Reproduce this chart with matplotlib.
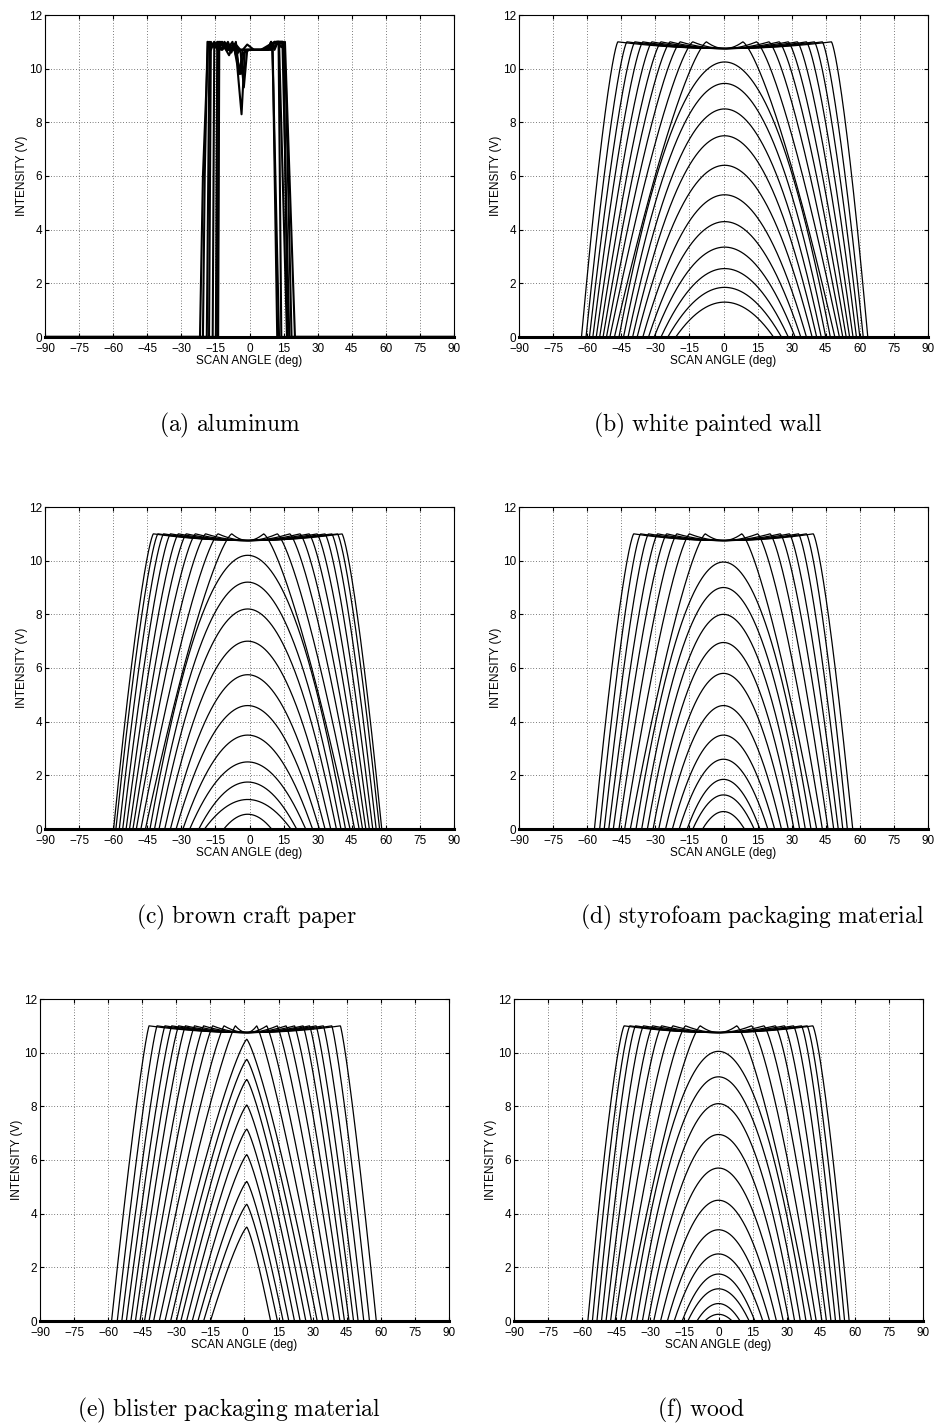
import numpy as np
import matplotlib.pyplot as plt

plt.rcParams['font.family'] = ['Liberation Sans', 'DejaVu Sans']
plt.rcParams['mathtext.fontset'] = 'cm'

angle = np.linspace(-90, 90, 1441)

# (a) aluminum - traces read point by point
al_x = [
    [-90, -21.8, -20.5, -18.2, -17, -15.5, -14, -12.5, -11, -9.5, -8, -6.5, -5, -3, 0, 4, 8, 9.5, 11, 12.5, 14, 15.6, 20, 90],
    [-90, -17.8, -17.0, -15.5, -14, -12.5, -11, -9.5, -7, -5.5, -3.5, -2, 0, 4, 8, 9.5, 11, 12.5, 14.5, 17.5, 90],
    [-90, -16.2, -15.5, -14, -12, -10, -8, -6, -4.5, -3, -1, 2, 6, 9, 11, 13, 16.5, 90],
    [-90, -14.8, -14.2, -12, -10, -8, -6, -4, -2.5, -1, 1, 4, 8, 10, 10.5, 13, 90],
    [-90, -13.8, -13.3, -11, -9, -7, -5, -2, 2, 6, 9, 11, 12.8, 14, 90],
    [-90, -20.5, -19.7, -18.5, -16, -13, -10, -7.5, -6, -4, 0, 5, 9, 12, 14.8, 16, 18.5, 90],
    [-90, -18.8, -17.6, -15, -12, -9, -6.5, -5, -3.8, -2.5, 0, 5, 9, 12, 15, 16.8, 90],
    [-90, -14, -13.6, -10, -6, -3, 0, 4, 8, 10.2, 12.2, 90],
]
al_y = [
    [0, 0, 6.0, 11.0, 10.7, 11.0, 10.7, 11.0, 10.8, 11.0, 10.7, 10.9, 10.7, 10.7, 10.7, 10.7, 10.7, 11.0, 10.8, 11.0, 10.8, 11.0, 0, 0],
    [0, 0, 11.0, 10.8, 11.0, 10.7, 11.0, 10.8, 10.9, 10.2, 8.3, 10.7, 10.7, 10.7, 10.7, 11.0, 10.7, 11.0, 11.0, 0, 0],
    [0, 0, 11.0, 10.7, 11.0, 10.8, 10.6, 11.0, 9.8, 10.7, 10.9, 10.7, 10.7, 10.8, 11.0, 11.0, 0, 0],
    [0, 0, 11.0, 10.7, 10.9, 10.7, 10.9, 10.7, 9.3, 10.7, 10.7, 10.7, 10.7, 10.7, 9.3, 0, 0],
    [0, 0, 11.0, 10.8, 10.5, 10.9, 10.7, 10.7, 10.7, 10.7, 10.8, 11.0, 10.9, 0, 0],
    [0, 0, 6.0, 11.0, 10.9, 11.0, 10.7, 11.0, 10.5, 10.7, 10.7, 10.7, 10.8, 11.0, 11.0, 9.5, 0, 0],
    [0, 0, 11.0, 10.8, 10.9, 10.7, 10.9, 10.2, 9.8, 10.6, 10.7, 10.7, 10.9, 11.0, 10.9, 0, 0],
    [0, 0, 11.0, 10.7, 10.7, 10.7, 10.7, 10.7, 10.7, 10.8, 0, 0],
]

# (b) white painted wall: peaks of unsaturated scans, zero-crossing half widths,
# and for saturated scans the half width where 11 V is reached
b_center = 0.5
b_peaks = [1.3, 1.85, 2.55, 3.35, 4.3, 5.3, 6.4, 7.5, 8.5, 9.45, 10.25]
b_widths = [21.5, 25, 28, 31, 33.5, 36, 38.5, 40.5, 42.5, 44.5, 46.5]
b_sat_widths = [48.5, 50.5, 52, 53.5, 55, 56.5, 58, 59.5, 61, 63]
b_sat_tops = [8, 14, 19.5, 24, 28, 32, 36, 39.5, 43, 47]

# (c) brown craft paper
c_center = -0.8
c_peaks = [0.55, 1.1, 1.75, 2.5, 3.5, 4.6, 5.75, 7.0, 8.2, 9.2, 10.2]
c_widths = [10.5, 19, 21.5, 25.5, 28.5, 31.5, 34, 36.5, 39, 41, 43]
c_sat_widths = [45, 47, 49, 50.5, 52, 53.5, 55, 56.5, 58, 59]
c_sat_tops = [7, 13, 18.5, 23, 27, 30.5, 34, 37, 39.5, 41.5]

# (d) styrofoam packaging material
d_center = 0.0
d_peaks = [0.65, 1.27, 1.85, 2.6, 3.5, 4.6, 5.8, 6.95, 8.0, 9.0, 9.95]
d_widths = [9.2, 13.5, 16, 19.5, 22.5, 25.5, 28.5, 31, 33.5, 36, 38.5]
d_sat_widths = [41, 43.5, 46, 48.5, 50.5, 52.5, 54.5, 56.8]
d_sat_tops = [8, 15, 20.5, 25, 29, 33, 36.5, 39.5]

# (e) blister packaging material (asymmetric, pointed)
e_center = 1.0
e_peaks = [3.5, 4.35, 5.2, 6.2, 7.15, 8.05, 9.0, 9.75, 10.5]
e_widths_l = [16, 19, 21.5, 24, 26.5, 29, 31, 33.5, 36]
e_widths_r = [10.5, 13.5, 16, 18.5, 21, 23.5, 26, 28.5, 31]
e_sat_widths_l = [38.5, 41, 43, 45, 47, 49, 51, 53, 55, 57, 59.5]
e_sat_widths_r = [33.5, 36, 38.5, 41, 43, 45, 47, 49, 51.5, 54, 57]
e_sat_tops = [5, 10, 15, 19, 23, 27, 30, 33, 36, 39.5, 43]

# (f) wood
f_center = 0.0
f_peaks = [0.25, 0.65, 1.2, 1.75, 2.5, 3.4, 4.5, 5.7, 6.95, 8.1, 9.1, 10.05]
f_widths = [6, 9.5, 13.5, 16, 19.5, 22.5, 25.5, 28.5, 31, 33.5, 36, 38.5]
f_sat_widths = [41, 43, 45.5, 47.5, 49.5, 51.5, 53.5, 55.5, 57.5]
f_sat_tops = [8, 14.5, 20, 25, 29, 33, 36.5, 39, 41.5]

captions = ['(a)\\ aluminum', '(b)\\ white\\ painted\\ wall', '(c)\\ brown\\ craft\\ paper',
            '(d)\\ styrofoam\\ packaging\\ material', '(e)\\ blister\\ packaging\\ material',
            '(f)\\ wood']


def rel(center, wl, wr):
    # distance from the scan centre, normalised separately on each side
    return np.where(angle < center, (center - angle) / wl, (angle - center) / wr)


def scan(peak, wl, wr, center, n):
    u = rel(center, wl, wr)
    return np.clip(peak * (1 - u ** n), 0, None)


def sat_scan(wl, wr, top, center, k):
    u = rel(center, wl, wr)
    us = top / wl
    t = np.clip((1 - u) / (1 - us), 0, 1)
    y = 11.0 * (1 - (1 - t) ** k)
    flat = u < us
    y[flat] = 10.75 + 0.25 * (u[flat] / us) ** 2
    return y


def draw(ax, center, peaks, wl, wr, swl, swr, stops, n, k):
    for p, a, b in zip(peaks, wl, wr):
        ax.plot(angle, scan(p, a, b, center, n), color='k', lw=0.9)
    for a, b, t in zip(swl, swr, stops):
        ax.plot(angle, sat_scan(a, b, t, center, k), color='k', lw=0.9)


def style(ax):
    ax.set_xlim(-90, 90)
    ax.set_ylim(0, 12)
    ax.set_xticks(range(-90, 91, 15))
    ax.set_yticks(range(0, 13, 2))
    ax.grid(True, linestyle=(0, (1, 3)), color='k', lw=0.5)
    ax.tick_params(direction='in', top=True, right=True, length=3, labelsize=8.5)
    ax.tick_params(axis='x', pad=4)
    ax.tick_params(axis='y', pad=2)
    for s in ax.spines.values():
        s.set_linewidth(0.8)
    ax.spines['bottom'].set_linewidth(2.2)
    ax.set_xlabel('SCAN ANGLE (deg)', fontsize=8.5, labelpad=0)
    ax.set_ylabel('INTENSITY (V)', fontsize=8.5, labelpad=1)


fig = plt.figure(figsize=(9.39, 14.26), dpi=100)
W, H = 939, 1426
boxes = [(45, 337), (519, 337), (45, 829), (519, 829), (40, 1321), (514, 1321)]
axes = []
for left, bottom in boxes:
    ax = fig.add_axes([left / W, 1 - bottom / H, 409 / W, 322 / H])
    axes.append(ax)

for xs, ys in zip(al_x, al_y):
    axes[0].plot(xs, ys, color='k', lw=1.5)
draw(axes[1], b_center, b_peaks, b_widths, b_widths, b_sat_widths, b_sat_widths, b_sat_tops, 2, 1.35)
draw(axes[2], c_center, c_peaks, c_widths, c_widths, c_sat_widths, c_sat_widths, c_sat_tops, 2, 1.35)
draw(axes[3], d_center, d_peaks, d_widths, d_widths, d_sat_widths, d_sat_widths, d_sat_tops, 2, 1.35)
draw(axes[4], e_center, e_peaks, e_widths_l, e_widths_r, e_sat_widths_l, e_sat_widths_r, e_sat_tops, 1.25, 1.2)
draw(axes[5], f_center, f_peaks, f_widths, f_widths, f_sat_widths, f_sat_widths, f_sat_tops, 2, 1.35)

for ax in axes:
    style(ax)

cap_pos = [(230, 425), (708, 425), (246, 917), (752, 917), (229, 1410), (701, 1410)]
for (cx, cy), txt in zip(cap_pos, captions):
    fig.text(cx / W, 1 - cy / H, '$\\mathrm{' + txt + '}$', fontsize=17, ha='center', va='center')

fig.savefig('out.png', dpi=100)
